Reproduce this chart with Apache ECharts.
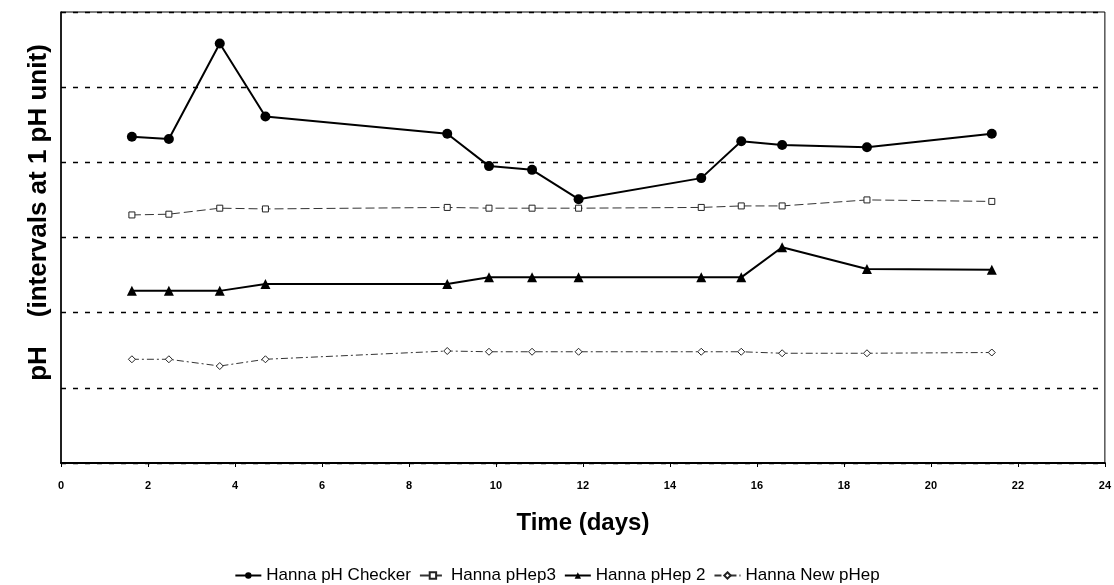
<!DOCTYPE html>
<html>
<head>
<meta charset="utf-8">
<script src="https://cdn.jsdelivr.net/npm/echarts@6/dist/echarts.min.js"></script>
<style>
html,body{margin:0;padding:0;background:#fff;}
#c{width:1114px;height:585px;}
</style>
</head>
<body>
<div id="c"></div>
<script>
// Time of each measurement (days)
const days = [1.63, 2.48, 3.65, 4.70, 8.88, 9.84, 10.83, 11.90, 14.72, 15.64, 16.58, 18.53, 21.40];
// pH readings (scale shown without labels, 1 pH unit per gridline)
const checker = [7.34, 7.31, 8.58, 7.61, 7.38, 6.95, 6.90, 6.51, 6.79, 7.28, 7.23, 7.20, 7.38];
const pHep3   = [6.30, 6.31, 6.39, 6.38, 6.40, 6.39, 6.39, 6.39, 6.40, 6.42, 6.42, 6.50, 6.48];
const pHep2   = [5.29, 5.29, 5.29, 5.38, 5.38, 5.47, 5.47, 5.47, 5.47, 5.47, 5.87, 5.58, 5.57];
const newPHep = [4.38, 4.38, 4.29, 4.38, 4.49, 4.48, 4.48, 4.48, 4.48, 4.48, 4.46, 4.46, 4.47];
const seriesNames = ['Hanna pH Checker', 'Hanna pHep3', 'Hanna pHep 2', 'Hanna New pHep'];
const xTicks = {min: 0, max: 24, step: 2};
const yTicks = {min: 3, max: 9, step: 1};

const pairs = arr => days.map((d, i) => [d, arr[i]]);
const FONT = 'Liberation Sans, Arial, sans-serif';

const chart = echarts.init(document.getElementById('c'), null, {renderer: 'canvas'});
chart.setOption({
  backgroundColor: '#fff',
  animation: false,
  grid: {left: 61, right: 5, top: 12, bottom: 122, show: true, borderColor: '#000', borderWidth: 1},
  xAxis: {
    type: 'value', min: xTicks.min, max: xTicks.max, interval: xTicks.step,
    name: 'Time (days)', nameLocation: 'middle', nameGap: 48,
    nameTextStyle: {fontFamily: FONT, fontWeight: 'bold', fontSize: 24, color: '#000'},
    axisLine: {show: true, lineStyle: {color: '#000', width: 2}},
    axisTick: {show: true, length: 4, lineStyle: {color: '#000'}},
    axisLabel: {fontFamily: FONT, fontWeight: 'bold', fontSize: 11, color: '#000', margin: 17},
    splitLine: {show: false}
  },
  yAxis: {
    type: 'value', min: yTicks.min, max: yTicks.max, interval: yTicks.step,
    name: 'pH    (intervals at 1 pH unit)', nameLocation: 'middle', nameGap: 9,
    nameTextStyle: {fontFamily: FONT, fontWeight: 'bold', fontSize: 26, color: '#000', padding: [0, 0, 0, 50]},
    axisLine: {show: true, lineStyle: {color: '#000', width: 1.5}},
    axisTick: {show: false},
    axisLabel: {show: false},
    splitLine: {show: true, lineStyle: {color: '#000', width: 1.4, type: [5, 7]}}
  },
  legend: {
    bottom: -4, left: 'center', itemGap: 8, itemWidth: 26, itemHeight: 8,
    textStyle: {fontFamily: FONT, fontSize: 17, color: '#000'},
    data: seriesNames
  },
  series: [
    {
      name: seriesNames[0], type: 'line', data: pairs(checker),
      symbol: 'circle', symbolSize: 10,
      itemStyle: {color: '#000'}, lineStyle: {color: '#000', width: 2}
    },
    {
      name: seriesNames[1], type: 'line', data: pairs(pHep3),
      symbol: 'rect', symbolSize: 6,
      itemStyle: {color: '#fff', borderColor: '#222', borderWidth: 1},
      lineStyle: {color: '#333', width: 1, type: [9, 4]}
    },
    {
      name: seriesNames[2], type: 'line', data: pairs(pHep2),
      symbol: 'triangle', symbolSize: 10,
      itemStyle: {color: '#000'}, lineStyle: {color: '#000', width: 2}
    },
    {
      name: seriesNames[3], type: 'line', data: pairs(newPHep),
      symbol: 'diamond', symbolSize: 7,
      itemStyle: {color: '#fff', borderColor: '#222', borderWidth: 1},
      lineStyle: {color: '#333', width: 1, type: [7, 3, 2, 3]}
    }
  ]
});
</script>
</body>
</html>
